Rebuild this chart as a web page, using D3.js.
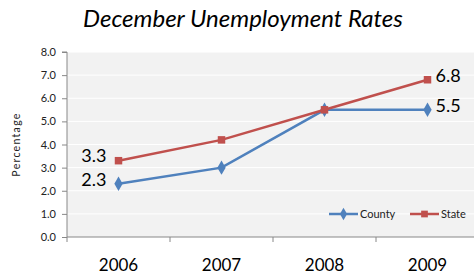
<!DOCTYPE html>
<html>
<head>
<meta charset="utf-8">
<script src="https://cdn.jsdelivr.net/npm/d3@7"></script>
<style>
  body { margin: 0; background: #fff; }
  text { font-family: Lato, "Open Sans", "Liberation Sans", sans-serif; }
</style>
</head>
<body>
<div id="chart"></div>
<script>
const years = ['2006', '2007', '2008', '2009']
const county = [2.3, 3.0, 5.5, 5.5]
const state = [3.3, 4.2, 5.5, 6.8]
const yTicks = [0, 1, 2, 3, 4, 5, 6, 7, 8]

const W = 474
const H = 277
const plot = { left: 67, right: 479, top: 52, bottom: 237 }

const svg = d3.select('#chart').append('svg')
  .attr('width', W)
  .attr('height', H)

const x = d3.scaleBand(years, [plot.left, plot.right])
const y = d3.scaleLinear([0, 8], [plot.bottom, plot.top])
const cx = d => x(d) + x.bandwidth() / 2

svg.append('rect')
  .attr('x', plot.left)
  .attr('y', plot.top)
  .attr('width', plot.right - plot.left)
  .attr('height', plot.bottom - plot.top)
  .attr('fill', '#f2f2f2')

// gridlines
svg.append('g').selectAll('line')
  .data(yTicks.filter(d => d > 0))
  .join('line')
  .attr('x1', plot.left)
  .attr('x2', plot.right)
  .attr('y1', d => y(d))
  .attr('y2', d => y(d))
  .attr('stroke', '#fff')
  .attr('stroke-width', 1)

// y axis
const yAxis = svg.append('g')
  .attr('transform', `translate(${plot.left},0)`)
  .call(d3.axisLeft(y).tickValues(yTicks).tickFormat(d3.format('.1f')).tickSize(5).tickPadding(6))
yAxis.select('.domain').attr('stroke', '#888').attr('d', `M-5,${y(8)}H0V${y(0) + 5}`)
yAxis.selectAll('.tick line').attr('stroke', '#888')
yAxis.selectAll('.tick text').attr('font-size', 11).attr('fill', '#222')

// x axis
const xAxis = svg.append('g')
  .attr('transform', `translate(0,${plot.bottom})`)
xAxis.append('line')
  .attr('x1', plot.left).attr('x2', plot.right)
  .attr('stroke', '#888')
xAxis.selectAll('line.tk')
  .data(years)
  .join('line')
  .attr('class', 'tk')
  .attr('x1', d => x(d) + x.bandwidth())
  .attr('x2', d => x(d) + x.bandwidth())
  .attr('y1', 0).attr('y2', 5)
  .attr('stroke', '#888')
xAxis.selectAll('text')
  .data(years)
  .join('text')
  .attr('x', d => cx(d))
  .attr('y', 34)
  .attr('text-anchor', 'middle')
  .attr('font-size', 17)
  .attr('fill', '#000')
  .text(d => d)

// title
svg.append('text')
  .attr('x', 243)
  .attr('y', 27)
  .attr('text-anchor', 'middle')
  .attr('font-size', 24)
  .attr('font-style', 'italic')
  .attr('fill', '#000')
  .text('December Unemployment Rates')

// y label
svg.append('text')
  .attr('transform', `translate(20,${(plot.top + plot.bottom) / 2}) rotate(-90)`)
  .attr('text-anchor', 'middle')
  .attr('font-size', 10.5)
  .attr('letter-spacing', 1.3)
  .attr('fill', '#222')
  .text('Percentage')

const series = [
  { name: 'County', values: county, color: '#4f81bd', symbol: d3.symbolDiamond, size: 60 },
  { name: 'State', values: state, color: '#c0504d', symbol: d3.symbolSquare, size: 56 }
]

const line = d3.line()
  .x((d, i) => cx(years[i]))
  .y(d => y(d))

series.forEach(s => {
  svg.append('path')
    .datum(s.values)
    .attr('fill', 'none')
    .attr('stroke', s.color)
    .attr('stroke-width', 2.5)
    .attr('d', line)
  svg.append('g').selectAll('path')
    .data(s.values)
    .join('path')
    .attr('transform', (d, i) => `translate(${cx(years[i])},${y(d)})`)
    .attr('d', d3.symbol(s.symbol, s.size))
    .attr('fill', s.color)
})

// data labels (first and last)
const labels = [
  { v: state[0], i: 0, side: 'left' },
  { v: county[0], i: 0, side: 'left' },
  { v: state[3], i: 3, side: 'right' },
  { v: county[3], i: 3, side: 'right' }
]
svg.append('g').selectAll('text')
  .data(labels)
  .join('text')
  .attr('x', d => cx(years[d.i]) + (d.side === 'left' ? -12 : 8))
  .attr('y', d => y(d.v))
  .attr('dy', '0.1em')
  .attr('text-anchor', d => d.side === 'left' ? 'end' : 'start')
  .attr('font-size', 18)
  .attr('fill', '#000')
  .text(d => d3.format('.1f')(d.v))

// legend
const legend = svg.append('g').attr('transform', 'translate(329,214)')
const lx = [0, 81]
series.forEach((s, k) => {
  const g = legend.append('g').attr('transform', `translate(${lx[k]},0)`)
  g.append('line').attr('x1', 0).attr('x2', 29)
    .attr('stroke', s.color).attr('stroke-width', 2.5)
  g.append('path').attr('transform', 'translate(14.5,0)')
    .attr('d', d3.symbol(s.symbol, 45)).attr('fill', s.color)
  g.append('text').attr('x', 31).attr('dy', '0.35em')
    .attr('font-size', 11).attr('fill', '#222')
    .text(s.name)
})
</script>
</body>
</html>
